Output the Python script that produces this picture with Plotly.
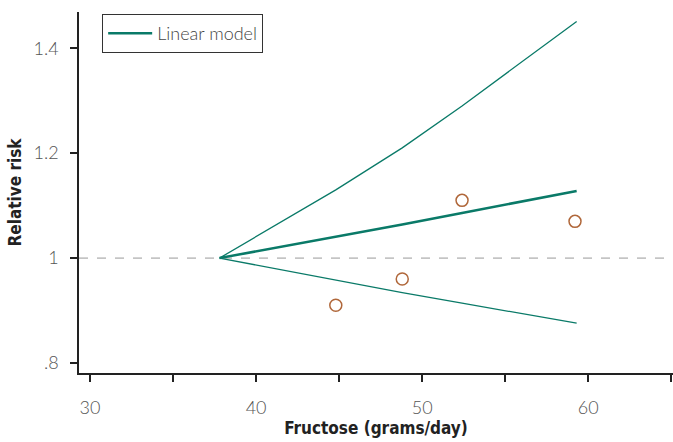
import plotly.graph_objects as go

# Data
fructose = [37.8, 44.8, 48.8, 52.4, 59.3]
rr_model = [1.0, 1.040, 1.064, 1.086, 1.128]
rr_upper = [1.0, 1.130, 1.210, 1.290, 1.451]
rr_lower = [1.0, 0.958, 0.934, 0.914, 0.876]

obs_x = [44.8, 48.8, 52.4, 59.2]
obs_rr = [0.91, 0.96, 1.11, 1.07]

x_tickvals = [30, 35, 40, 45, 50, 55, 60, 65]
x_ticktext = ["30", "", "40", "", "50", "", "60", ""]
y_tickvals = [0.8, 1.0, 1.2, 1.4]
y_ticktext = [".8", "1", "1.2", "1.4"]

teal = "#0a7a68"
brown = "#b0673a"

fig = go.Figure()
fig.add_trace(go.Scatter(x=fructose, y=rr_upper, mode="lines",
                         line=dict(color=teal, width=1.3), showlegend=False, hoverinfo="skip"))
fig.add_trace(go.Scatter(x=fructose, y=rr_lower, mode="lines",
                         line=dict(color=teal, width=1.3), showlegend=False, hoverinfo="skip"))
fig.add_trace(go.Scatter(x=fructose, y=rr_model, mode="lines", name="Linear model",
                         line=dict(color=teal, width=2.5)))
fig.add_trace(go.Scatter(x=obs_x, y=obs_rr, mode="markers", showlegend=False,
                         marker=dict(symbol="circle-open", size=12,
                                     line=dict(color=brown, width=1.5), color=brown)))

fig.add_shape(type="line", xref="paper", x0=0, x1=1, yref="y", y0=1, y1=1,
              line=dict(color="#9a9a9a", width=1, dash="dash"), layer="below")

tick_font = dict(family="Lato", size=18, color="#555555", weight=300)
title_font = dict(family="DejaVu Sans Condensed", size=17, color="#222222", weight="bold")

fig.update_layout(
    width=673, height=442,
    margin=dict(l=79, r=0, t=12, b=69),
    paper_bgcolor="white", plot_bgcolor="white",
    legend=dict(x=0.039, y=0.994, xanchor="left", yanchor="top",
                bordercolor="#333333", borderwidth=1, bgcolor="white",
                itemwidth=44,
                font=dict(family="Lato", size=18, color="#444444", weight=300)),
    xaxis=dict(range=[29.34, 65.1], tickvals=x_tickvals, ticktext=x_ticktext,
               showgrid=False, zeroline=False, showline=True, linecolor="#222222", linewidth=1.5,
               ticks="outside", ticklen=7, tickwidth=1.5, tickcolor="#222222",
               tickfont=tick_font, ticklabelstandoff=11,
               title=dict(text="Fructose (grams/day)", font=title_font, standoff=4)),
    yaxis=dict(range=[0.781, 1.469], tickvals=y_tickvals, ticktext=y_ticktext,
               showgrid=False, zeroline=False, showline=True, linecolor="#222222", linewidth=1.5,
               ticks="outside", ticklen=7, tickwidth=1.5, tickcolor="#222222",
               tickfont=tick_font, ticklabelstandoff=8,
               title=dict(text="Relative risk", font=title_font, standoff=8)),
)

fig.write_html("out.html")
